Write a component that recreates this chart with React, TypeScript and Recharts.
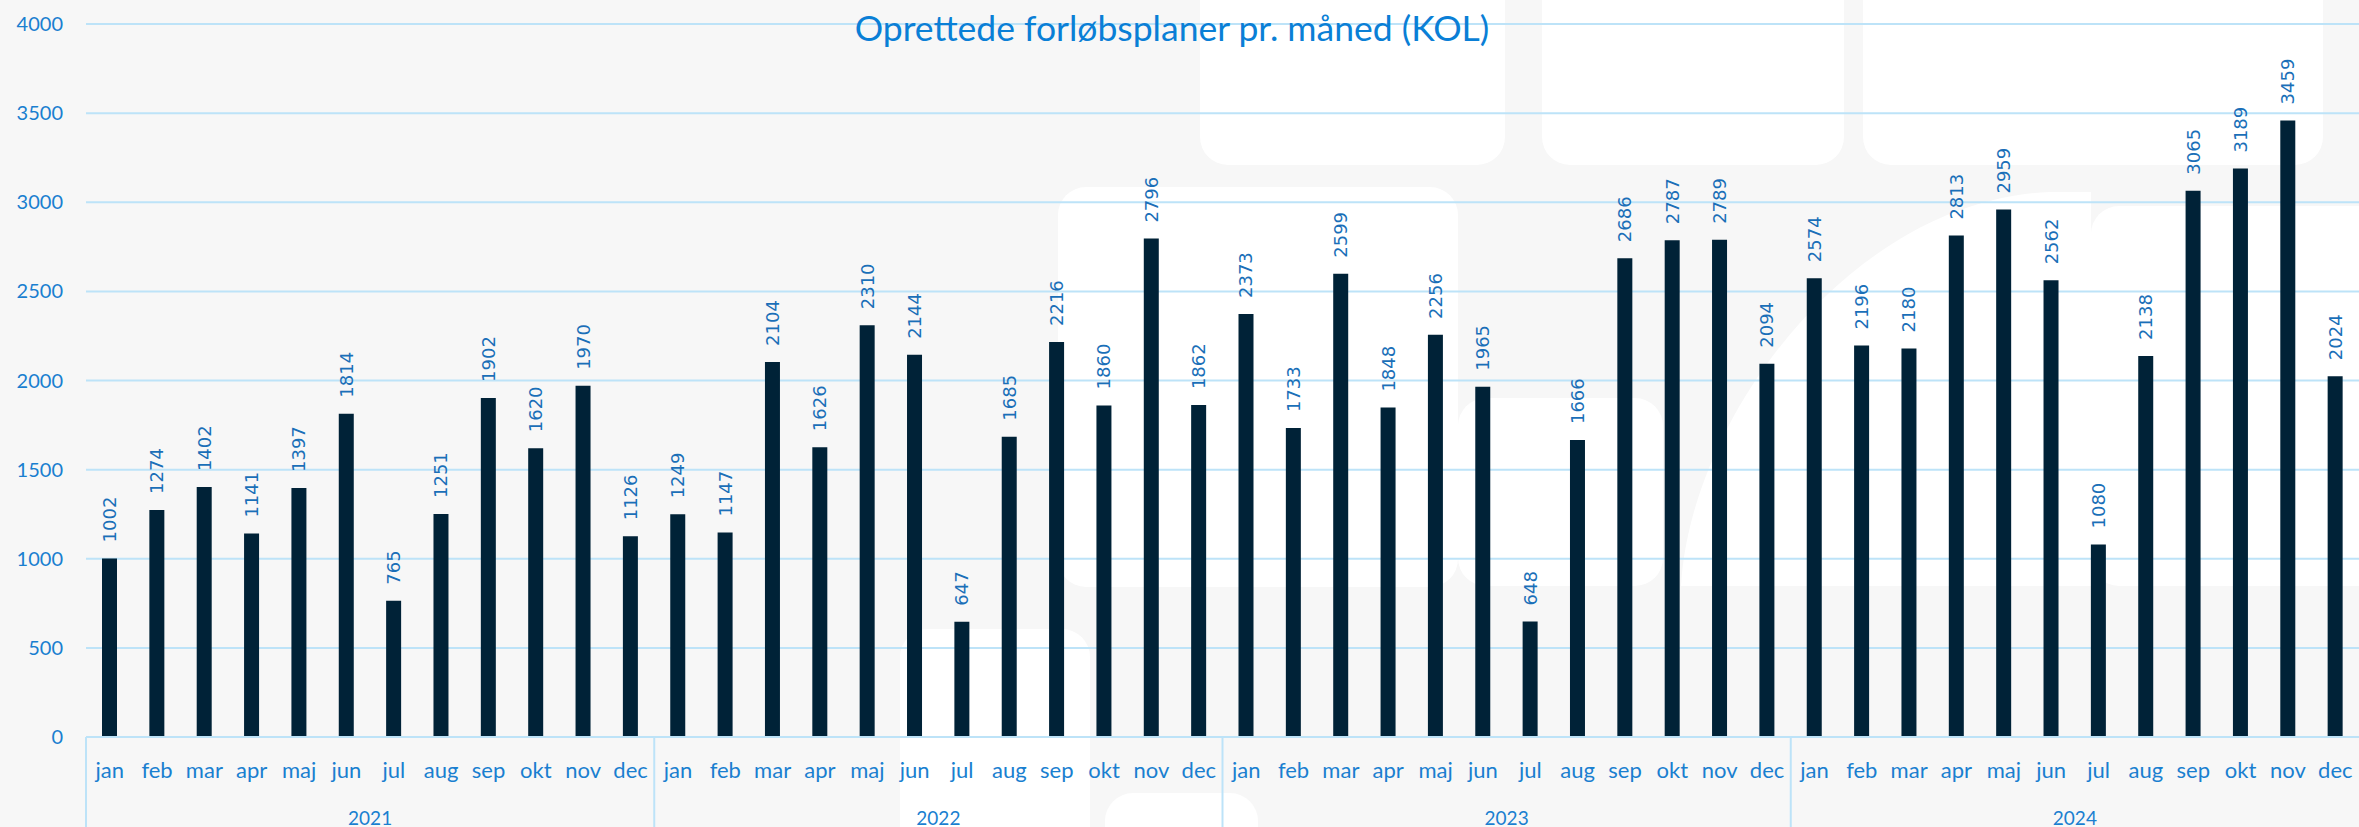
import React from 'react';
import { BarChart, Bar, XAxis, YAxis, CartesianGrid, LabelList } from 'recharts';

const YEARS = ['2021', '2022', '2023', '2024'];
const MONTHS = ['jan', 'feb', 'mar', 'apr', 'maj', 'jun', 'jul', 'aug', 'sep', 'okt', 'nov', 'dec'];

const VALUES_2021 = [1002, 1274, 1402, 1141, 1397, 1814, 765, 1251, 1902, 1620, 1970, 1126];
const VALUES_2022 = [1249, 1147, 2104, 1626, 2310, 2144, 647, 1685, 2216, 1860, 2796, 1862];
const VALUES_2023 = [2373, 1733, 2599, 1848, 2256, 1965, 648, 1666, 2686, 2787, 2789, 2094];
const VALUES_2024 = [2574, 2196, 2180, 2813, 2959, 2562, 1080, 2138, 3065, 3189, 3459, 2024];

const Y_TICKS = [0, 500, 1000, 1500, 2000, 2500, 3000, 3500, 4000];

const TITLE = 'Oprettede forløbsplaner pr. måned (KOL)';

const ALL_VALUES = [VALUES_2021, VALUES_2022, VALUES_2023, VALUES_2024];
const data = YEARS.flatMap((year, yi) =>
  MONTHS.map((month, mi) => ({
    key: `${year}-${month}`,
    month,
    year,
    value: ALL_VALUES[yi][mi],
  }))
);

const W = 2359;
const H = 827;
const Y_AXIS_W = 86;
const BAND = (W - Y_AXIS_W) / data.length;

const BLUE = '#1a7fd0';
const GRID = '#bde3f8';
const BAR = '#002237';

const MonthTick = (props: any) => {
  const { x, y, payload } = props;
  const d = data[payload.index];
  return (
    <g>
      <text
        x={x}
        y={y + 32}
        textAnchor="middle"
        dominantBaseline="central"
        fill={BLUE}
        fontSize={22}
        fontFamily="Lato, sans-serif"
      >
        {d.month}
      </text>
      {payload.index % 12 === 0 && (
        <line x1={x - BAND / 2} x2={x - BAND / 2} y1={y} y2={y + 95} stroke={GRID} strokeWidth={2} />
      )}
      {payload.index % 12 === 5 && (
        <text
          x={x + BAND / 2}
          y={y + 80}
          textAnchor="middle"
          dominantBaseline="central"
          fill={BLUE}
          fontSize={19}
          fontFamily="Lato, sans-serif"
        >
          {d.year}
        </text>
      )}
    </g>
  );
};

const ValueLabel = (props: any) => {
  const { x, y, width, value } = props;
  const cx = x + width / 2;
  const cy = y - 16;
  return (
    <text
      x={cx}
      y={cy}
      transform={`rotate(-90 ${cx} ${cy})`}
      textAnchor="start"
      dominantBaseline="central"
      fill="#1a6fb8"
      fontSize={18}
      fontFamily="'DejaVu Sans', sans-serif"
    >
      {value}
    </text>
  );
};

// faint logo watermark behind the chart
const Watermark = () => (
  <svg width={W} height={H} style={{ position: 'absolute', left: 0, top: 0 }}>
    <rect x={1200} y={-40} width={305} height={205} rx={28} fill="#fff" />
    <rect x={1542} y={-40} width={302} height={205} rx={28} fill="#fff" />
    <rect x={1863} y={-40} width={460} height={205} rx={28} fill="#fff" />
    <rect x={1058} y={187} width={400} height={400} rx={28} fill="#fff" />
    <rect x={1458} y={398} width={205} height={188} rx={28} fill="#fff" />
    <rect x={2091} y={206} width={300} height={380} rx={28} fill="#fff" />
    <path d="M1681 586 C1690 420 1850 200 2050 192 L2091 192 L2091 586 Z" fill="#fff" />
    <rect x={900} y={629} width={190} height={260} rx={28} fill="#fff" />
    <rect x={1105} y={793} width={153} height={80} rx={28} fill="#fff" />
  </svg>
);

export default function App() {
  return (
    <div style={{ position: 'absolute', left: 0, top: 0, width: W, height: H, background: '#f7f7f7', overflow: 'hidden' }}>
      <Watermark />
      <div style={{ position: 'absolute', left: 0, top: 0 }}>
        <BarChart width={W} height={H} data={data} margin={{ top: 24, right: 0, left: 0, bottom: 0 }} barCategoryGap={0}>
          <CartesianGrid vertical={false} stroke={GRID} strokeWidth={2} />
          <YAxis
            width={Y_AXIS_W}
            domain={[0, 4000]}
            ticks={Y_TICKS}
            axisLine={false}
            tickLine={false}
            tickSize={0}
            tickMargin={23}
            tick={{ fill: BLUE, fontSize: 20, fontFamily: 'Lato, sans-serif' }}
          />
          <XAxis
            dataKey="key"
            height={90}
            interval={0}
            tickLine={false}
            tickSize={0}
            tickMargin={0}
            axisLine={{ stroke: GRID, strokeWidth: 2 }}
            tick={<MonthTick />}
          />
          <Bar dataKey="value" fill={BAR} barSize={15} isAnimationActive={false}>
            <LabelList dataKey="value" content={<ValueLabel />} />
          </Bar>
          <text
            x={1172}
            y={27}
            textAnchor="middle"
            dominantBaseline="central"
            fill="#0a7fd6"
            fontSize={35.5}
            fontFamily="Lato, sans-serif"
          >
            {TITLE}
          </text>
        </BarChart>
      </div>
    </div>
  );
}
